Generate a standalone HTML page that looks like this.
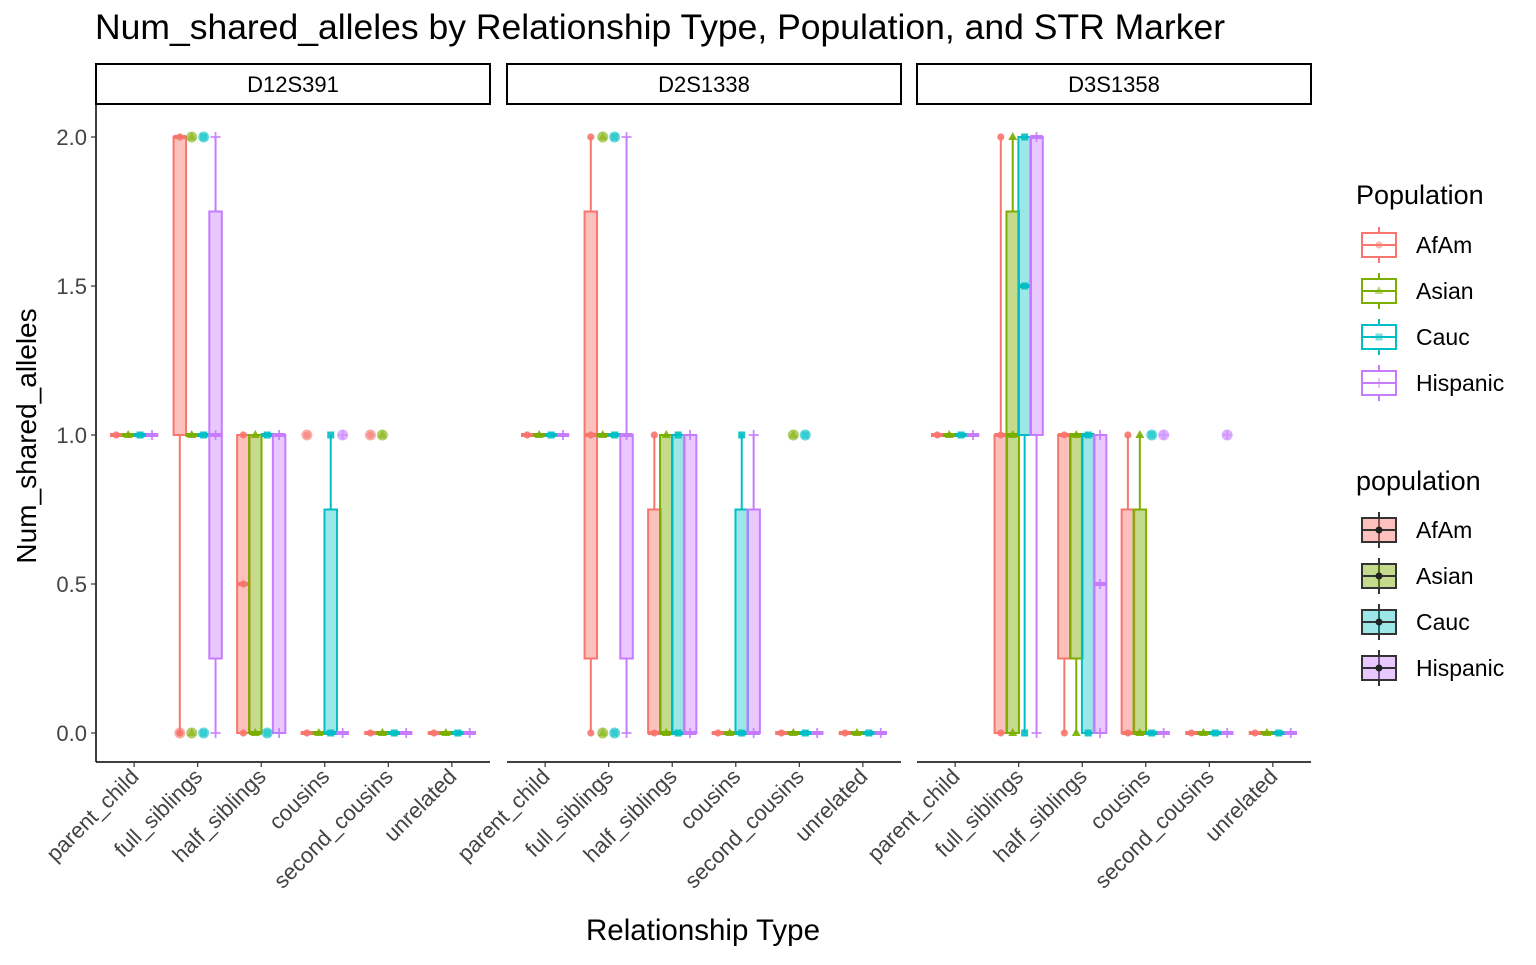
<!DOCTYPE html>
<html><head><meta charset="utf-8"><style>
body{margin:0;background:#fff;}
svg text{font-family:"Liberation Sans",Arial,sans-serif;}
</style></head><body>
<svg id="chart" width="1536" height="960" xmlns="http://www.w3.org/2000/svg">
<text x="95" y="39" font-size="35.5" fill="#000">Num_shared_alleles by Relationship Type, Population, and STR Marker</text>
<g id="plot"></g>
<text x="703" y="940" font-size="29.5" text-anchor="middle">Relationship Type</text>
<text transform="translate(36,436) rotate(-90)" font-size="28" text-anchor="middle">Num_shared_alleles</text>
<g id="legend"></g>
</svg>
<script>
const markers = ["D12S391","D2S1338","D3S1358"];
const categories = ["parent_child","full_siblings","half_siblings","cousins","second_cousins","unrelated"];
const populations = ["AfAm","Asian","Cauc","Hispanic"];
const yTicks = [0,0.5,1,1.5,2];
const yTickLabels = ["0.0","0.5","1.0","1.5","2.0"];
// boxes[category][population] = [lower whisker, q1, median, q3, upper whisker]
const boxesD12S391 = [
 [[1,1,1,1,1],[1,1,1,1,1],[1,1,1,1,1],[1,1,1,1,1]],
 [[0,1,2,2,2],[1,1,1,1,1],[1,1,1,1,1],[0,0.25,1,1.75,2]],
 [[0,0,0.5,1,1],[0,0,0,1,1],[1,1,1,1,1],[0,0,1,1,1]],
 [[0,0,0,0,0],[0,0,0,0,0],[0,0,0,0.75,1],[0,0,0,0,0]],
 [[0,0,0,0,0],[0,0,0,0,0],[0,0,0,0,0],[0,0,0,0,0]],
 [[0,0,0,0,0],[0,0,0,0,0],[0,0,0,0,0],[0,0,0,0,0]]
];
const boxesD2S1338 = [
 [[1,1,1,1,1],[1,1,1,1,1],[1,1,1,1,1],[1,1,1,1,1]],
 [[0,0.25,1,1.75,2],[1,1,1,1,1],[1,1,1,1,1],[0,0.25,1,1,2]],
 [[0,0,0,0.75,1],[0,0,0,1,1],[0,0,0,1,1],[0,0,0,1,1]],
 [[0,0,0,0,0],[0,0,0,0,0],[0,0,0,0.75,1],[0,0,0,0.75,1]],
 [[0,0,0,0,0],[0,0,0,0,0],[0,0,0,0,0],[0,0,0,0,0]],
 [[0,0,0,0,0],[0,0,0,0,0],[0,0,0,0,0],[0,0,0,0,0]]
];
const boxesD3S1358 = [
 [[1,1,1,1,1],[1,1,1,1,1],[1,1,1,1,1],[1,1,1,1,1]],
 [[0,0,1,1,2],[0,0,1,1.75,2],[0,1,1.5,2,2],[0,1,2,2,2]],
 [[0,0.25,1,1,1],[0,0.25,1,1,1],[0,0,1,1,1],[0,0,0.5,1,1]],
 [[0,0,0,0.75,1],[0,0,0,0.75,1],[0,0,0,0,0],[0,0,0,0,0]],
 [[0,0,0,0,0],[0,0,0,0,0],[0,0,0,0,0],[0,0,0,0,0]],
 [[0,0,0,0,0],[0,0,0,0,0],[0,0,0,0,0],[0,0,0,0,0]]
];
// outliers: panel, category, population, value
const outlierPanel = [0,0,0,0,0,0,0,0,0,0,1,1,1,1,1,1,2,2,2];
const outlierCat   = [1,1,1,1,2,3,3,4,4,1,1,1,1,4,4,1,3,3,4];
const outlierPop   = [1,1,2,2,2,0,3,0,1,0,1,1,2,1,2,2,2,3,3];
const outlierVal   = [0,2,0,2,0,1,1,1,1,0,0,2,2,1,1,0,1,1,1];
const allBoxes = [boxesD12S391, boxesD2S1338, boxesD3S1358];
const colors = ["#F8766D","#7CAE00","#00BFC4","#C77CFF"];
const fills = ["rgba(248,118,109,0.45)","rgba(124,174,0,0.45)","rgba(0,191,196,0.38)","rgba(199,124,255,0.42)"];
const NS="http://www.w3.org/2000/svg";
const plotG=document.getElementById('plot');
const panelX=[96,507,917], panelW=394, plotTop=104, plotBottom=762;
function yScale(v){return 733-(v)*298;}
function xScale(p,c,k){const u=panelW/6.2;return panelX[p]+(c+0.6)*u+(k-1.5)*0.1875*u;}
function mk(tag,attrs,parent){const e=document.createElementNS(NS,tag);for(const a in attrs)e.setAttribute(a,attrs[a]);(parent||plotG).appendChild(e);return e;}
function shape(k,x,y,alpha,parent){
  const c=colors[k];
  if(k===0) return mk('circle',{cx:x,cy:y,r:3.6,fill:c,'fill-opacity':alpha},parent);
  if(k===1) return mk('polygon',{points:`${x},${y-5} ${x-4.5},${y+3} ${x+4.5},${y+3}`,fill:c,'fill-opacity':alpha},parent);
  if(k===2) return mk('rect',{x:x-3.5,y:y-3.5,width:7,height:7,fill:c,'fill-opacity':alpha},parent);
  return mk('path',{d:`M${x-5},${y}H${x+5}M${x},${y-5}V${y+5}`,stroke:c,'stroke-width':1.8,'stroke-opacity':alpha,fill:'none'},parent);
}
for(let p=0;p<3;p++){
  const st=mk('rect',{x:panelX[p],y:64,width:panelW,height:40,fill:'#fff',stroke:'#000','stroke-width':2});
  
  
  const sl=mk('text',{x:panelX[p]+panelW/2,y:92,'font-size':22,'text-anchor':'middle'});sl.textContent=markers[p];
  
  
  const ax=mk('line',{x1:panelX[p],x2:panelX[p]+panelW,y1:plotBottom,y2:plotBottom,stroke:'#000','stroke-width':1.5});
  
  
  if(p===0){
    const ya=mk('line',{x1:96,x2:96,y1:plotTop,y2:plotBottom,stroke:'#000','stroke-width':1.5});
    
    
    yTicks.forEach((t,i)=>{
      mk('line',{x1:91,x2:96,y1:yScale(t),y2:yScale(t),stroke:'#333','stroke-width':1.2});
      const tl=mk('text',{x:87,y:yScale(t)+8,'font-size':22,'text-anchor':'end',fill:'#444'});tl.textContent=yTickLabels[i];
      
      
    });
  }
  categories.forEach((cat,c)=>{
    const cx=xScale(p,c,1.5);
    mk('line',{x1:cx,x2:cx,y1:plotBottom,y2:plotBottom+5,stroke:'#333','stroke-width':1.2});
    const tl=mk('text',{transform:`translate(${cx+6},${plotBottom+16}) rotate(-45)`,'font-size':22,'text-anchor':'end',fill:'#444'});tl.textContent=cat;
    
    
    for(let k=0;k<4;k++){
      const b=allBoxes[p][c][k];const x=xScale(p,c,k);const w=12.5;
      const g=mk('g',{});
      
      
      mk('line',{x1:x,x2:x,y1:yScale(b[0]),y2:yScale(b[1]),stroke:colors[k],'stroke-width':2},g);
      mk('line',{x1:x,x2:x,y1:yScale(b[3]),y2:yScale(b[4]),stroke:colors[k],'stroke-width':2},g);
      mk('rect',{x:x-w/2,y:yScale(b[3]),width:w,height:Math.max(0,yScale(b[1])-yScale(b[3])),fill:fills[k],stroke:colors[k],'stroke-width':2},g);
      mk('line',{x1:x-w/2,x2:x+w/2,y1:yScale(b[2]),y2:yScale(b[2]),stroke:colors[k],'stroke-width':4},g);
      const vals=[...new Set([b[0],b[2],b[4]])];
      vals.forEach(v=>shape(k,x,yScale(v),0.9,g));
    }
  });
}
for(let i=0;i<outlierVal.length;i++){
  const p=outlierPanel[i],c=outlierCat[i],k=outlierPop[i];
  const x=xScale(p,c,k),y=yScale(outlierVal[i]);
  const o=mk('circle',{cx:x,cy:y,r:5.5,fill:colors[k],'fill-opacity':0.6});
  
  
  shape(k,x,y,0.5);
}
const lg=document.getElementById('legend');
function legend(title,ty,y0,useColor){
  const t=mk('text',{x:1356,y:ty,'font-size':27},lg);t.textContent=title;
  
  
  populations.forEach((pop,k)=>{
    const y=y0+k*46;const sc=useColor?colors[k]:'#333';
    const g=mk('g',{},lg);
    
    
    mk('line',{x1:1379,x2:1379,y1:y-18,y2:y+18,stroke:sc,'stroke-width':2},g);
    mk('rect',{x:1362,y:y-12,width:34,height:24,fill:useColor?'#fff':fills[k],stroke:sc,'stroke-width':2},g);
    mk('line',{x1:1362,x2:1396,y1:y,y2:y,stroke:sc,'stroke-width':2},g);
    if(useColor){shape(k,1379,y,0.5,g);} else mk('circle',{cx:1379,cy:y,r:3.5,fill:'#222'},g);
    const tx=mk('text',{x:1416,y:y+8,'font-size':23},g);tx.textContent=pop;
  });
}
legend('Population',204,245,true);
legend('population',490,530,false);
</script>
</body></html>
